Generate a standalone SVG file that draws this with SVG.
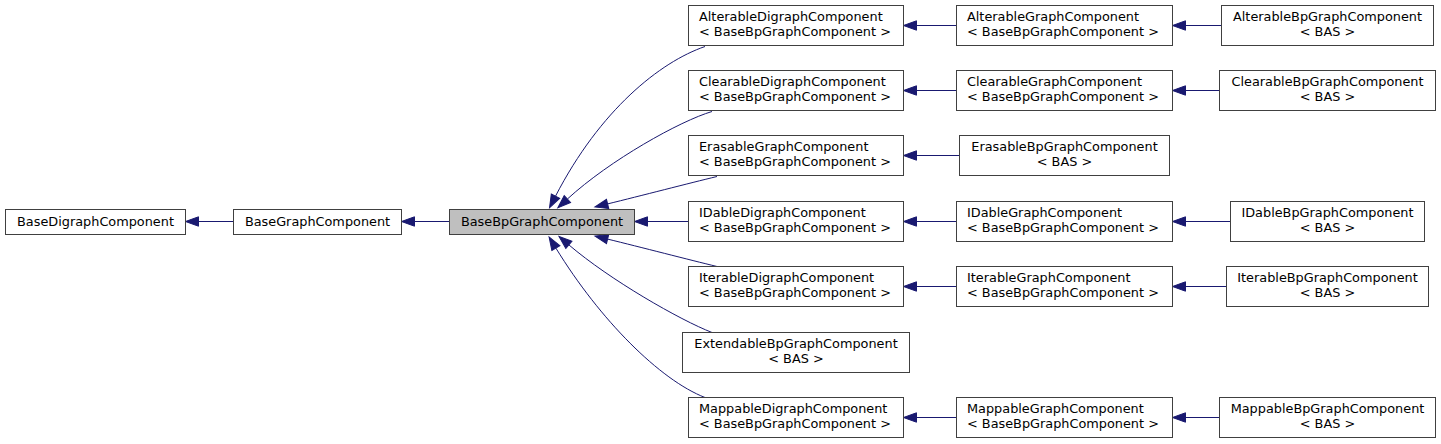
<svg xmlns="http://www.w3.org/2000/svg" width="1441" height="444" viewBox="0 0 1441 444">
<style>
.n rect{fill:#ffffff;stroke:#404040;stroke-width:1}
.n.cur rect{fill:#bfbfbf}
.n text{font-family:"DejaVu Sans",sans-serif;font-size:12.85px;fill:#000000}
.c{text-anchor:middle}
.e path{fill:none;stroke:#191970;stroke-width:1;marker-end:url(#ah)}
</style>
<defs>
<marker id="ah" markerUnits="userSpaceOnUse" orient="auto" markerWidth="14" markerHeight="10" refX="0" refY="4.7" viewBox="0 0 14 9.4" overflow="visible">
<polygon points="0,0 13,4.7 0,9.4" fill="#191970" stroke="#191970" stroke-width="1"/>
</marker>
</defs>
<rect width="1441" height="444" fill="#ffffff"/>
<g id="edges" class="e">
<path d="M233,221.5 H198.5"/>
<path d="M449,221.5 H414.5"/>
<path d="M705,46.5 C660,62 600,110 555.5,196.2"/>
<path d="M712,111.5 C680,121 610,160 567.4,199"/>
<path d="M717,176.5 C690,183 640,196 607.6,203.9"/>
<path d="M688,221.5 H647.5"/>
<path d="M717,266.5 C690,260 640,247 607.6,239.1"/>
<path d="M712,332.5 C680,320 610,280 568.9,244.9"/>
<path d="M705,397.5 C660,380 600,320 555.9,248.1"/>
<path d="M956,25.5 H916.5"/>
<path d="M956,90.5 H916.5"/>
<path d="M959,155.5 H916.5"/>
<path d="M956,221.5 H916.5"/>
<path d="M956,286.5 H916.5"/>
<path d="M956,417.5 H916.5"/>
<path d="M1221,25.5 H1185.5"/>
<path d="M1219,90.5 H1185.5"/>
<path d="M1230,221.5 H1185.5"/>
<path d="M1226,286.5 H1185.5"/>
<path d="M1219,417.5 H1185.5"/>
</g>
<g id="BaseDigraphComponent" class="n"><rect x="5.5" y="209.5" width="180" height="25"/><text class="c" x="95.5" y="226">BaseDigraphComponent</text></g>
<g id="BaseGraphComponent" class="n"><rect x="233.5" y="209.5" width="168" height="25"/><text class="c" x="317.5" y="226">BaseGraphComponent</text></g>
<g id="BaseBpGraphComponent" class="n cur"><rect x="449.5" y="209.5" width="185" height="25"/><text class="c" x="542" y="226">BaseBpGraphComponent</text></g>

<g id="AlterableDigraphComponent" class="n"><rect x="688.5" y="5.5" width="215" height="40"/><text x="699" y="21">AlterableDigraphComponent</text><text x="699" y="36">&lt; BaseBpGraphComponent &gt;</text></g>
<g id="ClearableDigraphComponent" class="n"><rect x="688.5" y="70.5" width="215" height="40"/><text x="699" y="86">ClearableDigraphComponent</text><text x="699" y="101">&lt; BaseBpGraphComponent &gt;</text></g>
<g id="ErasableGraphComponent" class="n"><rect x="688.5" y="135.5" width="215" height="40"/><text x="699" y="151">ErasableGraphComponent</text><text x="699" y="166">&lt; BaseBpGraphComponent &gt;</text></g>
<g id="IDableDigraphComponent" class="n"><rect x="688.5" y="201.5" width="215" height="40"/><text x="699" y="217">IDableDigraphComponent</text><text x="699" y="232">&lt; BaseBpGraphComponent &gt;</text></g>
<g id="IterableDigraphComponent" class="n"><rect x="688.5" y="266.5" width="215" height="40"/><text x="699" y="282">IterableDigraphComponent</text><text x="699" y="297">&lt; BaseBpGraphComponent &gt;</text></g>
<g id="ExtendableBpGraphComponent" class="n"><rect x="682.5" y="332.5" width="227" height="40"/><text class="c" x="796" y="348">ExtendableBpGraphComponent</text><text class="c" x="796" y="363">&lt; BAS &gt;</text></g>
<g id="MappableDigraphComponent" class="n"><rect x="688.5" y="397.5" width="215" height="40"/><text x="699" y="413">MappableDigraphComponent</text><text x="699" y="428">&lt; BaseBpGraphComponent &gt;</text></g>

<g id="AlterableGraphComponent" class="n"><rect x="956.5" y="5.5" width="216" height="40"/><text x="967" y="21">AlterableGraphComponent</text><text x="967" y="36">&lt; BaseBpGraphComponent &gt;</text></g>
<g id="ClearableGraphComponent" class="n"><rect x="956.5" y="70.5" width="216" height="40"/><text x="967" y="86">ClearableGraphComponent</text><text x="967" y="101">&lt; BaseBpGraphComponent &gt;</text></g>
<g id="ErasableBpGraphComponent" class="n"><rect x="959.5" y="135.5" width="210" height="40"/><text class="c" x="1064.5" y="151">ErasableBpGraphComponent</text><text class="c" x="1064.5" y="166">&lt; BAS &gt;</text></g>
<g id="IDableGraphComponent" class="n"><rect x="956.5" y="201.5" width="216" height="40"/><text x="967" y="217">IDableGraphComponent</text><text x="967" y="232">&lt; BaseBpGraphComponent &gt;</text></g>
<g id="IterableGraphComponent" class="n"><rect x="956.5" y="266.5" width="216" height="40"/><text x="967" y="282">IterableGraphComponent</text><text x="967" y="297">&lt; BaseBpGraphComponent &gt;</text></g>
<g id="MappableGraphComponent" class="n"><rect x="956.5" y="397.5" width="216" height="40"/><text x="967" y="413">MappableGraphComponent</text><text x="967" y="428">&lt; BaseBpGraphComponent &gt;</text></g>

<g id="AlterableBpGraphComponent" class="n"><rect x="1221.5" y="5.5" width="212" height="40"/><text class="c" x="1327.5" y="21">AlterableBpGraphComponent</text><text class="c" x="1327.5" y="36">&lt; BAS &gt;</text></g>
<g id="ClearableBpGraphComponent" class="n"><rect x="1219.5" y="70.5" width="216" height="40"/><text class="c" x="1327.5" y="86">ClearableBpGraphComponent</text><text class="c" x="1327.5" y="101">&lt; BAS &gt;</text></g>
<g id="IDableBpGraphComponent" class="n"><rect x="1230.5" y="201.5" width="194" height="40"/><text class="c" x="1327.5" y="217">IDableBpGraphComponent</text><text class="c" x="1327.5" y="232">&lt; BAS &gt;</text></g>
<g id="IterableBpGraphComponent" class="n"><rect x="1226.5" y="266.5" width="202" height="40"/><text class="c" x="1327.5" y="282">IterableBpGraphComponent</text><text class="c" x="1327.5" y="297">&lt; BAS &gt;</text></g>
<g id="MappableBpGraphComponent" class="n"><rect x="1219.5" y="397.5" width="216" height="40"/><text class="c" x="1327.5" y="413">MappableBpGraphComponent</text><text class="c" x="1327.5" y="428">&lt; BAS &gt;</text></g>
</svg>
